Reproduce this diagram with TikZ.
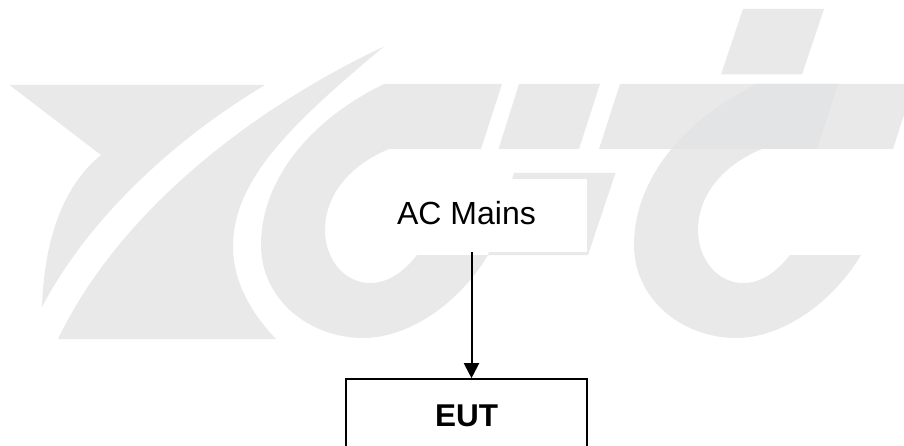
\documentclass[tikz,border=0pt]{standalone}
\usepackage{fontspec}
\setmainfont{Liberation Sans}
\usetikzlibrary{arrows.meta}
\definecolor{wm}{HTML}{E9E9E9}
\definecolor{wmdark}{HTML}{E3E4E5}
\newcommand{\logoC}[3]{(#1+384,84) -- (#2,84) -- (#3,149) -- (#1+389,149)
  .. controls (#1+350,165) and (#1+325,195) .. (#1+325,230)
  .. controls (#1+325,260) and (#1+345,283) .. (#1+370,283)
  .. controls (#1+390,283) and (#1+405,270) .. (#1+417,255)
  -- (#1+488,255)
  .. controls (#1+460,302) and (#1+410,338) .. (#1+363,338)
  .. controls (#1+310,338) and (#1+261,300) .. (#1+261,245)
  .. controls (#1+261,180) and (#1+310,120) .. cycle}
\tikzset{
  wmfill/.style={fill=wm,draw=none},
  label box/.style={fill=white,draw=none,minimum width=241pt,minimum height=73pt,inner sep=0pt,text height=23pt,text depth=5pt,font=\fontsize{32}{36}\selectfont},
  device box/.style={fill=white,draw=black,line width=1.6pt,minimum width=241pt,minimum height=74pt,inner sep=0pt,font=\fontsize{31.5}{36}\selectfont\bfseries},
  link/.style={draw=black,line width=2pt,-{Triangle[length=15pt,width=15pt]}}
}
\begin{document}
\begin{tikzpicture}[x=1pt,y=-1pt]
\useasboundingbox (0,0) rectangle (904,446);
\clip (0,0) rectangle (904,446);
% watermark
\fill[wmfill] (9.5,85) -- (265,85) .. controls (165,145) and (85,225) .. (42,307)
  .. controls (44,250) and (58,190) .. (101,155) -- cycle;
\fill[wmfill] (384,46.5) .. controls (270,100) and (125,200) .. (58,339) -- (276,339)
  .. controls (250,312) and (233,280) .. (233,247)
  .. controls (233,180) and (290,125) .. cycle;
\fill[wmfill] \logoC{0}{502}{481};
\fill[wmfill] (519,84) -- (600,84) -- (579,149) -- (498.5,149) -- cycle;
\fill[wmfill] (514,173) -- (615.5,173) -- (588,255) -- (488,255) -- cycle;
\fill[wmfill] (620,84) -- (904,84) -- (904,115) -- (893,149) -- (599,149) -- cycle;
\fill[wmfill] (743,9) -- (824,9) -- (802,74.5) -- (721,74.5) -- cycle;
\fill[wmfill] \logoC{373}{838}{817};
\begin{scope}
  \clip (620,84) -- (904,84) -- (904,115) -- (893,149) -- (599,149) -- cycle;
  \fill[wmdark] \logoC{373}{838}{817};
\end{scope}
% diagram
\node[label box] (ac) at (466.5,215.5) {AC Mains};
\node[device box] (eut) at (466.5,416) {EUT};
\draw[link] ([xshift=5pt]ac.south) -- ([xshift=5pt]eut.north);
\end{tikzpicture}
\end{document}
